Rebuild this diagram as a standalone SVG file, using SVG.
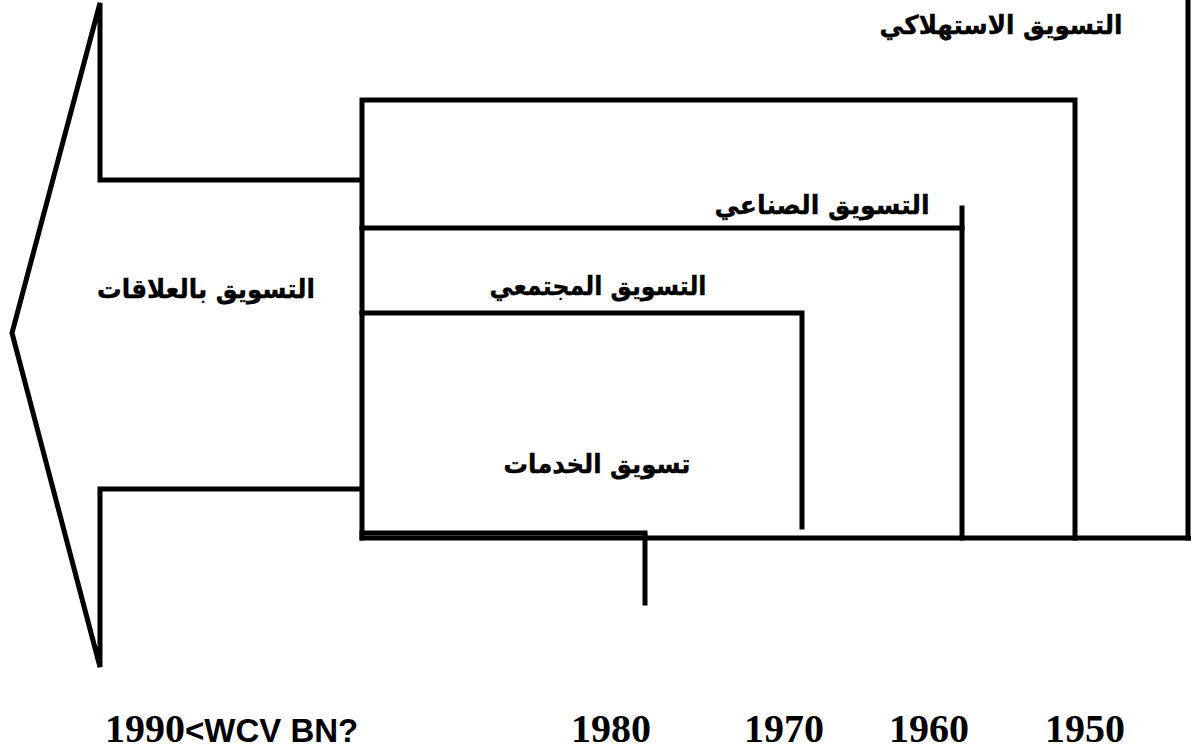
<svg xmlns="http://www.w3.org/2000/svg" width="1191" height="749" viewBox="0 0 1191 749">
  <style>
    .ln { fill: none; stroke: #000; stroke-width: 5; stroke-linejoin: miter; stroke-linecap: square; }
    .ar { font-family: "DejaVu Sans", "Noto Sans", sans-serif; font-weight: bold; font-size: 26px; fill: #000; stroke: #000; stroke-width: 0.4; text-anchor: middle; direction: rtl; }
    .yr { font-family: "Liberation Serif", "Times New Roman", serif; font-weight: bold; font-size: 40px; fill: #000; }
    .lat { font-family: "Liberation Sans", Arial, sans-serif; font-weight: bold; font-size: 33px; fill: #000; }
  </style>
  <rect width="1191" height="749" fill="#fff"/>

  <!-- connectors: nested period frames and timeline -->
  <g id="connectors">
    <!-- big left-pointing arrow outline -->
    <polyline class="ln" points="360,180 100,180 100,3 12,333 100,667 100,489 360,489"/>
    <!-- outer frame (consumer marketing) -->
    <polyline class="ln" points="1188,0 1188,538"/>
    <!-- 1950 frame -->
    <polyline class="ln" points="362,538 362,100 1075,100 1075,538"/>
    <!-- 1960 frame -->
    <polyline class="ln" points="362,228 962,228"/>
    <line class="ln" x1="962" y1="208" x2="962" y2="538"/>
    <!-- 1970 frame -->
    <polyline class="ln" points="362,313 802,313 802,527"/>
    <!-- base line -->
    <line class="ln" x1="362" y1="538" x2="1191" y2="538"/>
    <line class="ln" x1="362" y1="533" x2="645" y2="533"/>
    <!-- 1980 tick -->
    <line class="ln" x1="645" y1="536" x2="645" y2="603"/>
  </g>

  <g id="node-consumer">
    <text class="ar" x="1001" y="34" textLength="243" lengthAdjust="spacingAndGlyphs">التسويق الاستهلاكي</text>
  </g>
  <g id="node-industrial">
    <text class="ar" x="822" y="214" textLength="215" lengthAdjust="spacingAndGlyphs">التسويق الصناعي</text>
  </g>
  <g id="node-relationship">
    <text class="ar" x="206" y="298" textLength="218" lengthAdjust="spacingAndGlyphs">التسويق بالعلاقات</text>
  </g>
  <g id="node-social">
    <text class="ar" x="598" y="295" textLength="217" lengthAdjust="spacingAndGlyphs">التسويق المجتمعي</text>
  </g>
  <g id="node-services">
    <text class="ar" x="597" y="473" textLength="187" lengthAdjust="spacingAndGlyphs">تسويق الخدمات</text>
  </g>

  <g id="years">
    <text x="105" y="742"><tspan class="yr">1990</tspan><tspan class="lat">&lt;WCV BN?</tspan></text>
    <text class="yr" x="571" y="742">1980</text>
    <text class="yr" x="744" y="742">1970</text>
    <text class="yr" x="889" y="742">1960</text>
    <text class="yr" x="1045" y="742">1950</text>
  </g>
</svg>
